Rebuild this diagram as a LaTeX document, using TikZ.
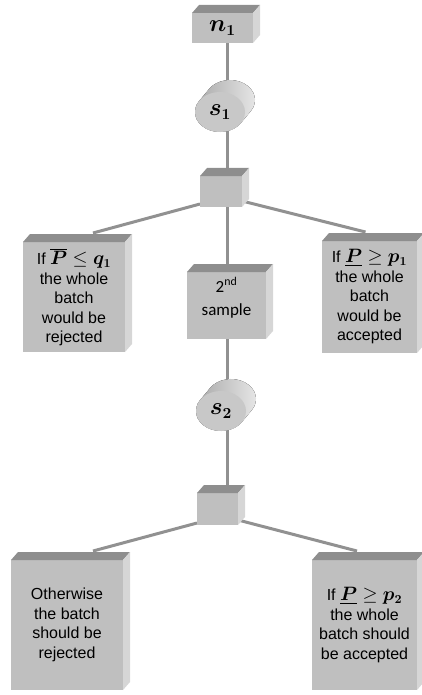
\documentclass[tikz,border=0pt]{standalone}
\usepackage{amsmath}
\usepackage{graphicx}
\usepackage{fontspec}
\setmainfont{Liberation Sans}
\newfontfamily\samplefont{Carlito}
\usetikzlibrary{positioning,shapes.geometric,backgrounds,calc}

\definecolor{boxfront}{RGB}{191,191,191}
\definecolor{boxtop}{RGB}{142,142,142}
\definecolor{boxside}{RGB}{214,214,214}
\definecolor{linkgray}{RGB}{145,145,145}
\definecolor{drumfront}{RGB}{200,200,200}

\newcommand{\bigmath}[1]{\scalebox{1.4}{$#1$}}
\newcommand{\boxmath}[1]{\scalebox{1.12}{$#1$}}

\tikzset{
  cuboid/.style={rectangle, fill=boxfront, inner sep=0pt, outer sep=0pt, align=center,
    font=\fontsize{16}{19.5}\selectfont},
  boxtopface/.style={fill=boxtop},
  boxsideface/.style={fill=boxside},
  link/.style={draw=linkgray, line width=3pt},
  drum/.style={ellipse, minimum width=50pt, minimum height=40pt, inner sep=0pt, outer sep=0pt,
    fill=drumfront, font=\fontsize{16}{19.5}\selectfont},
  drumbody/.style={left color=gray!70, right color=gray!18}
}

\begin{document}
\begin{tikzpicture}[x=1pt, y=-1pt]
  \useasboundingbox (0,0) rectangle (422,695);

  \node[cuboid, minimum width=61pt, minimum height=30pt]
    (n1) at (222.5,28) {\bigmath{\boldsymbol{n_1}}};
  \node[cuboid, minimum width=42pt, minimum height=31pt] (j1) at (221,191.5) {};
  \node[cuboid, minimum width=102pt, minimum height=110pt] (rej1) at (74,297)
    {If \boxmath{\overline{\boldsymbol{P}} \le \boldsymbol{q_1}}\\the whole\\batch\\would be\\rejected};
  \node[cuboid, minimum width=79pt, minimum height=67pt, font=\samplefont\fontsize{17}{23}\selectfont]
    (samp) at (226.5,305.5) {2\textsuperscript{nd}\\sample\\[-5pt]\mbox{}};
  \node[cuboid, minimum width=95pt, minimum height=112pt] (acc1) at (369.5,297)
    {If \boxmath{\underline{\boldsymbol{P}} \ge \boldsymbol{p_1}}\\the whole\\batch\\would be\\accepted};
  \node[cuboid, minimum width=41pt, minimum height=32pt] (j2) at (217.5,509) {};
  \node[cuboid, minimum width=112pt, minimum height=130pt] (rej2) at (67,625)
    {Otherwise\\the batch\\should be\\rejected};
  \node[cuboid, minimum width=105pt, minimum height=130pt] (acc2) at (364.5,625)
    {If \boxmath{\underline{\boldsymbol{P}} \ge \boldsymbol{p_2}}\\the whole\\batch should\\be accepted};

  % top and side faces
  \foreach \b in {n1,j1,rej1,samp,acc1,j2,rej2,acc2}{
    \fill[boxtopface] (\b.north west) -- ([shift={(7,-8)}]\b.north west)
      -- ([shift={(7,-8)}]\b.north east) -- (\b.north east) -- cycle;
    \fill[boxsideface] (\b.north east) -- ([shift={(7,-8)}]\b.north east)
      -- ([shift={(7,-8)}]\b.south east) -- (\b.south east) -- cycle;
  }

  % drums
  \foreach \d/\x/\y/\i in {s1/220/112/1, s2/221/411/2}{
    \coordinate (\d c) at (\x,\y);
    \fill[drumbody] ([shift={(-10.8,-23.1)}]\d c)
      arc[start angle=146.3, end angle=-33.7, x radius=25pt, y radius=20pt]
      -- ([shift={(20.8,11.1)}]\d c)
      arc[start angle=-33.7, end angle=-213.7, x radius=25pt, y radius=20pt] -- cycle;
    \node[drum] (\d) at (\d c) {\bigmath{\boldsymbol{s_\i}}};
  }

  \begin{scope}[on background layer]
    \draw[link] ([xshift=5pt]n1.south) -- ([xshift=5pt]n1.south |- j1.north);
    \draw[link] ([xshift=1pt]samp.north |- j1.south) -- ([xshift=1pt]samp.north);
    \draw[link] ([xshift=1pt]samp.south) -- ([xshift=1pt]samp.south |- j2.north);
    \draw[link] ([shift={(0,-3)}]j1.south west) -- ([shift={(19,-9)}]rej1.north);
    \draw[link] ([shift={(0,-6)}]j1.south east) -- ([shift={(-4,-9)}]acc1.north);
    \draw[link] ([shift={(0,-2)}]j2.south west) -- ([shift={(26,-9)}]rej2.north);
    \draw[link] ([shift={(0,-5)}]j2.south east) -- ([shift={(-7.5,-9)}]acc2.north);
  \end{scope}
\end{tikzpicture}
\end{document}
